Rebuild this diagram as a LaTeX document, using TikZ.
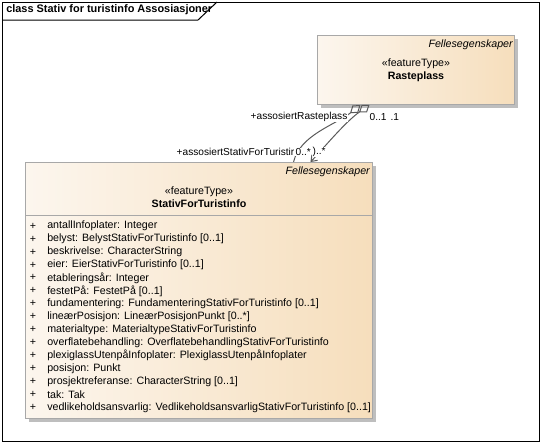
\documentclass[tikz,border=0pt]{standalone}
\usepackage{fontspec}
\setmainfont{Liberation Sans}
\usetikzlibrary{arrows.meta,positioning,shadows}

\definecolor{boxleft}{HTML}{FCF6EE}
\definecolor{boxright}{HTML}{F6DEBC}
\definecolor{boxline}{HTML}{A8A8A8}
\definecolor{boxshadow}{HTML}{BEBEBE}
\definecolor{linkline}{HTML}{5A5A5A}

\tikzset{
  umlclass/.style={draw=boxline, line width=0.75pt, left color=boxleft, right color=boxright,
    inner sep=0pt, anchor=north west,
    drop shadow={shadow xshift=2.6pt, shadow yshift=-2.6pt, fill=boxshadow, opacity=1}},
  txt/.style={inner sep=0pt, font=\fontsize{8}{9.5}\selectfont},
  pkg/.style={txt, font=\fontsize{8.2}{9.5}\selectfont\bfseries},
  tag/.style={txt, font=\fontsize{8}{9.5}\selectfont\itshape, anchor=east},
  cname/.style={txt, font=\fontsize{8}{9.5}\selectfont\bfseries},
  attr/.style={txt, anchor=west},
  role/.style={txt, font=\fontsize{7.6}{9}\selectfont, fill=white, inner sep=0.3pt},
  assoc/.style={draw=linkline, line width=0.75pt},
}

\begin{document}
\begin{tikzpicture}[x=0.75pt, y=-0.75pt]
\useasboundingbox (0,0) rectangle (541,444);

% frame
\draw[line width=0.75pt] (2,2) rectangle (539,441);
\draw[line width=0.75pt] (2,20) -- (198,20) -- (217,2);
\node[pkg, anchor=west] (title) at (6,10) {class Stativ for turistinfo Assosiasjoner};

% Rasteplass
\node[umlclass, minimum width=147.75pt, minimum height=51.75pt] (rast) at (317,35) {};
\node[tag] (rasttag) at ([xshift=-1.5pt, yshift=-7.1pt]rast.north east) {Fellesegenskaper};
\node[txt] (raststereo) at ([yshift=-21.75pt]rast.north) {«featureType»};
\node[cname] (rastname) at ([yshift=-31.5pt]rast.north) {Rasteplass};

% StativForTuristinfo
\node[umlclass, minimum width=260.25pt, minimum height=192pt] (stativ) at (25,162) {};
\node[tag] (stativtag) at ([xshift=-2.2pt, yshift=-7.5pt]stativ.north east) {Fellesegenskaper};
\node[txt] (stativstereo) at ([yshift=-22.5pt]stativ.north) {«featureType»};
\node[cname] (stativname) at ([yshift=-31.1pt]stativ.north) {StativForTuristinfo};
\draw[boxline, line width=0.75pt] ([yshift=-39.75pt]stativ.north west) -- ([yshift=-39.75pt]stativ.north east);

\foreach \a [count=\i] in {
  {antallInfoplater: Integer},
  {belyst: BelystStativForTuristinfo [0..1]},
  {beskrivelse: CharacterString},
  {eier: EierStativForTuristinfo [0..1]},
  {etableringsår: Integer},
  {festetPå: FestetPå [0..1]},
  {fundamentering: FundamenteringStativForTuristinfo [0..1]},
  {lineærPosisjon: LineærPosisjonPunkt [0..*]},
  {materialtype: MaterialtypeStativForTuristinfo},
  {overflatebehandling: OverflatebehandlingStativForTuristinfo},
  {plexiglassUtenpåInfoplater: PlexiglassUtenpåInfoplater},
  {posisjon: Punkt},
  {prosjektreferanse: CharacterString [0..1]},
  {tak: Tak},
  {vedlikeholdsansvarlig: VedlikeholdsansvarligStativForTuristinfo [0..1]}}
{
  \node[txt] (plus\i) at ([xshift=6pt, yshift={-48pt-9.73pt*(\i-1)}]stativ.north west) {+};
  \node[attr] (attr\i) at ([xshift=16.5pt, yshift={-48pt-9.73pt*(\i-1)}]stativ.north west) {\a};
}

% associations
\draw[assoc, {Diamond[open, length=10pt, width=7pt]}-]
  ([xshift=-41.6pt]rast.south) .. controls (335,125) and (300,135) .. ([xshift=70.9pt]stativ.north);
\draw[assoc, {Diamond[open, length=9.5pt, width=7pt]}-{Straight Barb[length=4pt, width=6pt]}]
  ([xshift=-34.9pt]rast.south) .. controls (345,122) and (322,150) .. ([xshift=83.6pt]stativ.north);

\node[role, anchor=east] (rastrole) at (348,117) {+assosiertRasteplass};
\node[role, anchor=west] (rastmult) at (369,117) {0..1};
\node[role, anchor=west] (rastmultb) at (390,117) {.1};
\node[role, anchor=east] (stativrole) at (295,152) {+assosiertStativForTuristir};
\node[role, anchor=west] (stativmult) at (295,152) {0..*};
\node[role, anchor=west] (stativmultb) at (312,152) {)..*};
\end{tikzpicture}
\end{document}
